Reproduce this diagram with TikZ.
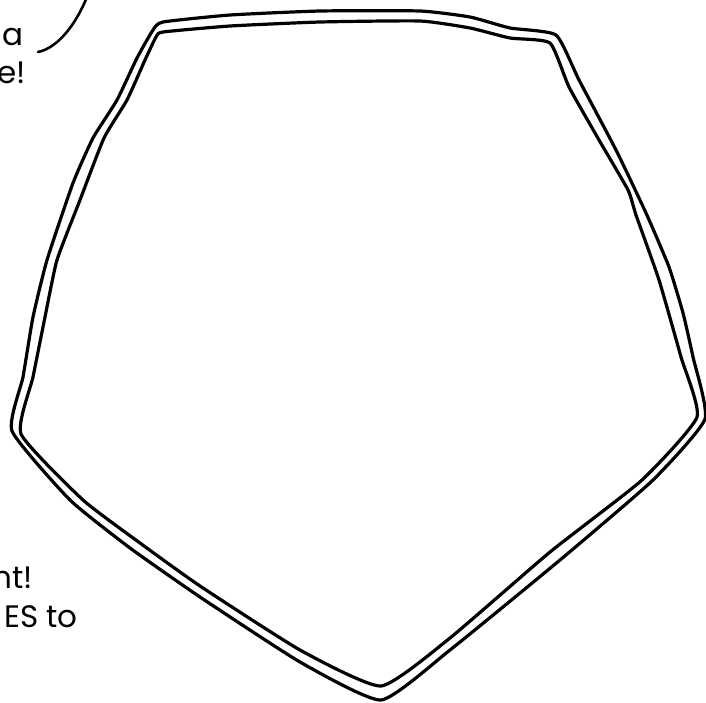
\documentclass[tikz,border=0pt]{standalone}
\usepackage{fontspec}
\setmainfont{Poppins}
\begin{document}
\begin{tikzpicture}[x=1pt,y=-1pt,
  penline/.style={line width=3.2pt, line join=round, line cap=round},
  lbl/.style={anchor=base east, inner sep=0pt, font=\fontsize{31}{40}\selectfont}]
\useasboundingbox (0,0) rectangle (706,702);
\clip (0,0) rectangle (706,702);
% outer outline
\draw[penline] plot[smooth cycle, tension=0.3] coordinates {
  (12,431) (23,377) (33,317) (47,260) (73,183) (93,138) (117,100) (137,58) (153,30) (163,22)
  (230,15) (320,11) (420,11) (470,17) (510,28) (556,35)
  (579,80) (616,150) (646,213) (669,267) (683,313) (693,357) (705,419)
  (653,480) (560,560) (450,650) (381,700)
  (300,662) (200,597) (130,548) (70,500)};
% inner outline
\draw[penline] plot[smooth cycle, tension=0.3] coordinates {
  (21,434) (33,377) (45,317) (57,260) (80,200) (104,138) (127,100) (145,60) (156,37) (163,32)
  (230,26) (320,22) (420,21) (470,28) (510,38) (550,43)
  (569,87) (599,140) (628,190) (636,215) (659,280) (681,357) (697,417)
  (642,480) (550,552) (450,638) (381,686)
  (300,650) (200,586) (140,543) (83,500)};
% speech bubble arc
\draw[line width=2.6pt, line cap=round] (38,52) .. controls (58,48) and (76,24) .. (87,-3);
% texts
\node[lbl] (t1) at (24,45) {a};
\node[lbl] (t2) at (26,83) {e!};
\node[lbl] (t3) at (33,588) {nt!};
\node[lbl] (t4) at (78,627) {ES to};
\end{tikzpicture}
\end{document}
